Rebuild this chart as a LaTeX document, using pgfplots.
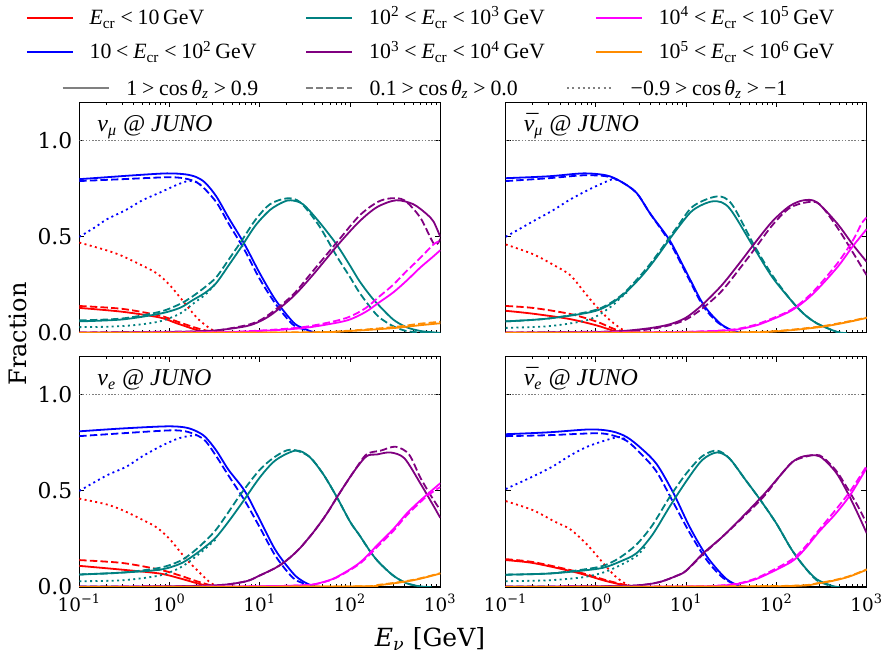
\documentclass[border=0pt]{standalone}
\usepackage{fontspec}
\usepackage{pgfplots}
\pgfplotsset{compat=1.18}
\newfontfamily\tms{Liberation Serif}
\newfontfamily\dvs{DejaVu Serif}
\definecolor{cteal}{RGB}{0,128,128}
\definecolor{cpurple}{RGB}{128,0,128}
\definecolor{corange}{RGB}{255,140,0}
\definecolor{cmag}{RGB}{255,0,255}
\newcommand{\rel}[1]{\hspace{0.22em}#1\hspace{0.22em}}
\newcommand{\Ecr}{\textit{E}\textsubscript{cr}}
\newcommand{\cz}{cos\hspace{0.15em}\textit{θ}\textsubscript{\textit{z}}}
\newcommand{\nubar}{\ooalign{ν\cr\hidewidth\kern0.12em¯\hidewidth\cr}}
\pgfplotsset{
 sol/.style={line width=0.9pt, solid, smooth, forget plot},
 das/.style={line width=0.9pt, dash pattern=on 3.7pt off 1.6pt, smooth, forget plot},
 dts/.style={line width=0.9pt, dash pattern=on 1pt off 1.7pt, smooth, forget plot},
 hl/.style={gray, line width=0.4pt, dash pattern=on 0.8pt off 0.8pt, forget plot},
 scale only axis, width=180.5pt, height=115.3pt,
 xmin=0.1, xmax=1000, ymin=0, ymax=1.2,
 ytick={0,0.5,1}, minor ytick={},
 tick align=inside, xtick pos=both, ytick pos=both,
 major tick length=2.6pt, minor tick length=1.5pt,
 tick style={black, line width=0.5pt},
 axis line style={line width=0.55pt},
 xticklabel style={font=\dvs\fontsize{9.2}{11}\selectfont},
 yticklabel style={font=\dvs\fontsize{10.9}{13}\selectfont},
 legend image code/.code={\draw[#1] (0pt,3.6pt) -- (23pt,3.6pt);},
}
\tikzset{plab/.style={anchor=base west, inner sep=0pt, font=\tms\itshape\fontsize{12}{14}\selectfont}}
\begin{document}
\begin{tikzpicture}
\useasboundingbox (0,0) rectangle (445.5pt,-331pt);

% ---------------- top left: nu_mu
\begin{axis}[xmode=log, xtick={0.1,1,10,100,1000},
 minor xtick={0.2,0.3,0.4,0.5,0.6,0.7,0.8,0.9,2,3,4,5,6,7,8,9,20,30,40,50,60,70,80,90,200,300,400,500,600,700,800,900},
 at={(39.65pt,-51.15pt)}, anchor=north west, xticklabels={}, yticklabels={0.0,0.5,1.0},
 legend columns=3,
 legend style={at={(axis description cs:-0.1475,1.4048)}, anchor=north west,
  draw=none, fill=none, inner sep=0pt, outer sep=0pt,
  font=\tms\fontsize{10.9}{13}\selectfont,
  nodes={inner sep=0pt, outer sep=0pt, text height=8pt, text depth=3pt},
  cells={anchor=base west},
  row sep=6pt,
  /tikz/every odd column/.append style={column sep=8pt}},
]
\addlegendimage{red, line width=0.8pt}
\addlegendentry{\makebox[108pt][l]{\Ecr\rel{<}10\,GeV}}
\addlegendimage{cteal, line width=0.8pt}
\addlegendentry{\makebox[113pt][l]{10\textsuperscript{2}\rel{<}\Ecr\rel{<}10\textsuperscript{3}\,GeV}}
\addlegendimage{cmag, line width=0.8pt}
\addlegendentry{10\textsuperscript{4}\rel{<}\Ecr\rel{<}10\textsuperscript{5}\,GeV}
\addlegendimage{blue, line width=0.8pt}
\addlegendentry{\makebox[108pt][l]{10\rel{<}\Ecr\rel{<}10\textsuperscript{2}\,GeV}}
\addlegendimage{cpurple, line width=0.8pt}
\addlegendentry{\makebox[113pt][l]{10\textsuperscript{3}\rel{<}\Ecr\rel{<}10\textsuperscript{4}\,GeV}}
\addlegendimage{corange, line width=0.8pt}
\addlegendentry{10\textsuperscript{5}\rel{<}\Ecr\rel{<}10\textsuperscript{6}\,GeV}
\addplot[hl] coordinates {(0.1,1) (1000,1)};
\addplot[red, sol] coordinates {(0.1,0.13) (0.3,0.11) (0.78,0.08) (1.2,0.05) (2,0.015) (2.5,0.005) (3,0) (5,0)};
\addplot[red, das] coordinates {(0.1,0.14) (0.3,0.125) (0.78,0.09) (1.2,0.06) (2,0.025) (3,0.005) (4,0)};
\addplot[red, dts] coordinates {(0.1,0.47) (0.2,0.43) (0.3,0.40) (0.5,0.35) (0.72,0.31) (1,0.25) (1.5,0.15) (2,0.08) (2.5,0.04) (3,0.015) (4,0)};
\addplot[blue, sol] coordinates {(0.1,0.80) (0.2,0.81) (0.4,0.82) (0.93,0.83) (1.5,0.825) (2,0.81) (2.5,0.78) (3.3,0.71) (4.5,0.60) (6.8,0.46) (10,0.31) (15,0.17) (23.5,0.055) (30,0.025) (39,0.005) (50,0)};
\addplot[blue, das] coordinates {(0.1,0.79) (0.3,0.80) (1,0.81) (1.6,0.80) (2.2,0.77) (3.3,0.68) (4.5,0.57) (6.8,0.43) (10,0.28) (15,0.15) (23,0.045) (30,0.02) (40,0)};
\addplot[blue, dts] coordinates {(0.1,0.50) (0.15,0.55) (0.2,0.59) (0.33,0.64) (0.5,0.69) (0.78,0.73) (1.2,0.77) (1.6,0.79) (2,0.785) (2.2,0.77)};
\addplot[cteal, sol] coordinates {(0.1,0.06) (0.3,0.07) (0.78,0.10) (1.3,0.13) (1.8,0.17) (2.5,0.21) (3.3,0.26) (4.5,0.35) (6.3,0.45) (9,0.56) (13,0.64) (18,0.68) (22,0.69) (30,0.67) (45,0.58) (71,0.46) (100,0.35) (127,0.27) (170,0.19) (212,0.14) (300,0.07) (420,0.03) (600,0.01) (840,0.003) (1000,0)};
\addplot[cteal, das] coordinates {(0.1,0.065) (0.3,0.075) (0.78,0.11) (1.3,0.15) (1.8,0.19) (2.5,0.24) (3.3,0.29) (4.5,0.38) (6.3,0.48) (9,0.59) (13,0.67) (20,0.70) (28,0.68) (45,0.56) (71,0.40) (100,0.29) (127,0.21) (170,0.13) (212,0.08) (300,0.035) (420,0.01) (600,0.002) (800,0)};
\addplot[cteal, dts] coordinates {(0.1,0.03) (0.2,0.032) (0.4,0.04) (0.78,0.06) (1.3,0.10) (1.8,0.15) (2.5,0.20) (3.3,0.26)};
\addplot[cpurple, sol] coordinates {(0.1,0.002) (1,0.004) (2,0.008) (3.6,0.015) (7.1,0.035) (10,0.06) (13.9,0.10) (23.5,0.19) (38.5,0.30) (74,0.46) (127,0.58) (200,0.655) (324,0.69) (500,0.67) (700,0.62) (840,0.58) (1000,0.50)};
\addplot[cpurple, das] coordinates {(0.1,0.002) (2,0.008) (3.6,0.015) (7.1,0.04) (10,0.065) (13.9,0.11) (23.5,0.20) (38.5,0.32) (74,0.48) (127,0.61) (200,0.68) (280,0.70) (400,0.69) (600,0.60) (860,0.46) (1000,0.49)};
\addplot[cmag, sol] coordinates {(0.1,0) (3,0.003) (10,0.01) (30,0.025) (66,0.05) (100,0.07) (150,0.11) (212,0.16) (300,0.21) (420,0.27) (600,0.34) (800,0.39) (1000,0.43)};
\addplot[cmag, das] coordinates {(0.1,0) (3,0.004) (10,0.012) (30,0.03) (66,0.06) (100,0.085) (150,0.13) (212,0.19) (300,0.25) (420,0.32) (600,0.39) (840,0.46) (1000,0.48)};
\addplot[corange, sol] coordinates {(0.1,0) (30,0.002) (100,0.01) (300,0.025) (600,0.04) (1000,0.05)};
\addplot[corange, das] coordinates {(0.1,0) (30,0.003) (100,0.012) (300,0.03) (600,0.048) (1000,0.058)};
\node[plab] at (axis description cs:0.049,0.873) {ν\textsubscript{μ} @ JUNO};
\end{axis}

% ---------------- top right: anti nu_mu
\begin{axis}[xmode=log, xtick={0.1,1,10,100,1000},
 minor xtick={0.2,0.3,0.4,0.5,0.6,0.7,0.8,0.9,2,3,4,5,6,7,8,9,20,30,40,50,60,70,80,90,200,300,400,500,600,700,800,900},
 at={(252.85pt,-51.15pt)}, anchor=north west, xticklabels={}, yticklabels={},
 legend columns=3,
 legend style={at={(axis description cs:-1.2287,1.1004)}, anchor=north west,
  draw=none, fill=none, inner sep=0pt, outer sep=0pt,
  font=\tms\fontsize{10.9}{13}\selectfont,
  nodes={inner sep=0pt, outer sep=0pt, text height=8pt, text depth=3pt},
  cells={anchor=base west},
  /tikz/every odd column/.append style={column sep=8.5pt}},
]
\addlegendimage{gray, line width=0.6pt, solid}
\addlegendentry{\makebox[89.5pt][l]{1\rel{>}\cz\rel{>}0.9}}
\addlegendimage{gray, line width=0.6pt, dash pattern=on 3.5pt off 1.6pt}
\addlegendentry{\makebox[98.5pt][l]{0.1\rel{>}\cz\rel{>}0.0}}
\addlegendimage{gray, line width=0.6pt, dash pattern=on 1pt off 1.6pt}
\addlegendentry{−0.9\rel{>}\cz\rel{>}−1}
\addplot[hl] coordinates {(0.1,1) (1000,1)};
\addplot[red, sol] coordinates {(0.1,0.115) (0.2,0.10) (0.5,0.073) (1,0.04) (1.6,0.01) (2.2,0.002) (3,0)};
\addplot[red, das] coordinates {(0.1,0.14) (0.2,0.13) (0.5,0.10) (1,0.06) (1.6,0.02) (2.2,0.005) (3,0)};
\addplot[red, dts] coordinates {(0.1,0.46) (0.2,0.41) (0.35,0.35) (0.52,0.30) (0.75,0.21) (1.0,0.14) (1.4,0.07) (2.0,0.015) (2.5,0.003) (3,0)};
\addplot[blue, sol] coordinates {(0.1,0.805) (0.3,0.815) (0.72,0.83) (1.3,0.82) (1.85,0.79) (2.8,0.73) (4,0.62) (6.6,0.48) (10.2,0.31) (15.4,0.15) (23,0.055) (30,0.02) (36,0.005) (45,0)};
\addplot[blue, das] coordinates {(0.1,0.79) (0.3,0.805) (0.72,0.82) (1.3,0.815) (1.85,0.79) (2.8,0.73) (4,0.62) (6.6,0.47) (10.2,0.30) (15.4,0.14) (23,0.05) (36,0.003) (45,0)};
\addplot[blue, dts] coordinates {(0.1,0.50) (0.2,0.58) (0.34,0.64) (0.5,0.69) (0.79,0.74) (1.2,0.78) (1.55,0.80) (1.85,0.79)};
\addplot[cteal, sol] coordinates {(0.1,0.06) (0.3,0.075) (1.0,0.115) (1.85,0.185) (3,0.28) (4.4,0.375) (7.9,0.54) (12,0.64) (20,0.685) (30,0.65) (56,0.445) (90,0.29) (145,0.17) (200,0.10) (280,0.05) (470,0.005) (600,0)};
\addplot[cteal, das] coordinates {(0.1,0.06) (0.3,0.075) (1.0,0.12) (1.85,0.19) (3,0.29) (4.4,0.385) (7.9,0.55) (12,0.66) (22,0.71) (32,0.67) (56,0.46) (90,0.30) (145,0.17) (200,0.10) (280,0.05) (470,0.005) (600,0)};
\addplot[cteal, dts] coordinates {(0.1,0.026) (0.3,0.035) (0.7,0.06) (1.0,0.085) (1.5,0.14) (1.85,0.18) (2.2,0.21)};
\addplot[cpurple, sol] coordinates {(0.1,0.002) (1,0.004) (2,0.01) (4,0.025) (6.6,0.045) (10,0.08) (15.4,0.15) (25,0.25) (40,0.37) (56,0.46) (90,0.58) (140,0.66) (200,0.69) (280,0.68) (470,0.57) (700,0.46) (1000,0.37)};
\addplot[cpurple, das] coordinates {(0.1,0.002) (2,0.008) (4,0.02) (6.6,0.04) (10,0.07) (15.4,0.13) (25,0.22) (40,0.34) (56,0.43) (90,0.56) (140,0.65) (220,0.68) (300,0.67) (470,0.55) (700,0.42) (1000,0.30)};
\addplot[cmag, sol] coordinates {(0.1,0) (5,0.003) (15,0.007) (25,0.011) (36,0.017) (50,0.03) (70,0.05) (145,0.115) (250,0.20) (470,0.34) (700,0.45) (1000,0.54)};
\addplot[cmag, das] coordinates {(0.1,0) (5,0.004) (15,0.008) (25,0.013) (36,0.02) (50,0.034) (70,0.055) (145,0.12) (250,0.21) (470,0.36) (700,0.48) (880,0.57) (1000,0.60)};
\addplot[corange, sol] coordinates {(0.1,0) (30,0.002) (100,0.008) (300,0.03) (600,0.055) (1000,0.078)};
\addplot[corange, das] coordinates {(0.1,0) (30,0.003) (100,0.01) (300,0.033) (600,0.058) (1000,0.08)};
\node[plab] at (axis description cs:0.049,0.873) {\nubar\textsubscript{μ} @ JUNO};
\end{axis}

% ---------------- bottom left: nu_e
\begin{axis}[xmode=log, xtick={0.1,1,10,100,1000},
 minor xtick={0.2,0.3,0.4,0.5,0.6,0.7,0.8,0.9,2,3,4,5,6,7,8,9,20,30,40,50,60,70,80,90,200,300,400,500,600,700,800,900},
 at={(39.65pt,-178.2pt)}, anchor=north west,
 xticklabels={10\textsuperscript{−1},10\textsuperscript{0},10\textsuperscript{1},10\textsuperscript{2},10\textsuperscript{3}},
 yticklabels={0.0,0.5,1.0}]
\addplot[hl] coordinates {(0.1,1) (1000,1)};
\addplot[red, sol] coordinates {(0.1,0.11) (0.3,0.09) (0.78,0.07) (1.3,0.045) (2,0.02) (2.8,0.003) (3.5,0)};
\addplot[red, das] coordinates {(0.1,0.14) (0.3,0.125) (0.78,0.09) (1.3,0.06) (2,0.03) (2.8,0.01) (3.5,0)};
\addplot[red, dts] coordinates {(0.1,0.46) (0.2,0.43) (0.3,0.40) (0.5,0.35) (0.72,0.31) (1,0.25) (1.5,0.15) (2,0.09) (2.5,0.045) (3,0.015) (4,0)};
\addplot[blue, sol] coordinates {(0.1,0.81) (0.3,0.825) (0.93,0.836) (1.5,0.83) (2,0.81) (2.5,0.78) (3.3,0.71) (4.5,0.61) (6.8,0.50) (10,0.35) (15,0.19) (23.5,0.07) (30,0.03) (39,0.005) (50,0)};
\addplot[blue, das] coordinates {(0.1,0.785) (0.3,0.80) (1,0.815) (1.5,0.81) (2,0.79) (2.5,0.76) (3.3,0.68) (4.5,0.58) (6.8,0.45) (10,0.31) (15,0.16) (23,0.05) (30,0.02) (40,0)};
\addplot[blue, dts] coordinates {(0.1,0.50) (0.2,0.58) (0.33,0.625) (0.5,0.68) (0.78,0.73) (1.2,0.77) (1.6,0.785) (2,0.79)};
\addplot[cteal, sol] coordinates {(0.1,0.065) (0.3,0.075) (0.78,0.09) (1.3,0.12) (1.8,0.16) (2.5,0.21) (3.3,0.26) (4.5,0.34) (6.3,0.435) (10,0.57) (15,0.66) (25,0.71) (35,0.68) (50,0.59) (71,0.47) (100,0.34) (127,0.27) (170,0.18) (212,0.125) (300,0.06) (420,0.02) (600,0.003) (800,0)};
\addplot[cteal, das] coordinates {(0.1,0.065) (0.3,0.075) (0.78,0.10) (1.3,0.135) (1.8,0.18) (2.5,0.24) (3.3,0.30) (4.5,0.39) (6.3,0.49) (10,0.61) (15,0.68) (22,0.715) (35,0.68) (50,0.59) (71,0.47) (100,0.34) (127,0.27) (170,0.18) (212,0.125) (300,0.06) (420,0.02) (600,0.003)};
\addplot[cteal, dts] coordinates {(0.1,0.03) (0.3,0.035) (0.78,0.06) (1.3,0.10) (1.8,0.145) (2.5,0.20) (3.3,0.25)};
\addplot[cpurple, sol] coordinates {(0.1,0.002) (1,0.004) (3.6,0.01) (7.1,0.03) (10,0.06) (15,0.10) (20,0.14) (27.6,0.20) (40,0.29) (55,0.38) (77,0.49) (110,0.60) (152,0.68) (200,0.69) (280,0.70) (400,0.67) (600,0.54) (800,0.44) (1000,0.36)};
\addplot[cpurple, das] coordinates {(0.1,0.002) (1,0.004) (3.6,0.01) (7.1,0.03) (10,0.06) (15,0.10) (20,0.14) (27.6,0.20) (40,0.29) (55,0.38) (77,0.49) (110,0.60) (152,0.69) (220,0.71) (320,0.73) (450,0.69) (600,0.57) (800,0.47) (1000,0.40)};
\addplot[cmag, sol] coordinates {(0.1,0) (3,0.002) (10,0.004) (20,0.006) (30,0.009) (39,0.013) (50,0.025) (70,0.05) (127,0.125) (212,0.23) (300,0.30) (420,0.38) (600,0.45) (1000,0.54)};
\addplot[cmag, das] coordinates {(0.1,0) (3,0.002) (10,0.004) (20,0.006) (30,0.009) (39,0.013) (50,0.024) (70,0.048) (127,0.12) (212,0.22) (300,0.29) (420,0.37) (700,0.47) (1000,0.52)};
\addplot[corange, sol] coordinates {(0.1,0) (100,0.003) (212,0.01) (500,0.035) (1000,0.07)};
\addplot[corange, das] coordinates {(0.1,0) (100,0.003) (212,0.012) (500,0.037) (1000,0.072)};
\node[plab] at (axis description cs:0.049,0.873) {ν\textsubscript{e} @ JUNO};
\end{axis}

% ---------------- bottom right: anti nu_e
\begin{axis}[xmode=log, xtick={0.1,1,10,100,1000},
 minor xtick={0.2,0.3,0.4,0.5,0.6,0.7,0.8,0.9,2,3,4,5,6,7,8,9,20,30,40,50,60,70,80,90,200,300,400,500,600,700,800,900},
 at={(252.85pt,-178.2pt)}, anchor=north west, yticklabels={},
 xticklabels={10\textsuperscript{−1},10\textsuperscript{0},10\textsuperscript{1},10\textsuperscript{2},10\textsuperscript{3}}]
\addplot[hl] coordinates {(0.1,1) (1000,1)};
\addplot[red, sol] coordinates {(0.1,0.14) (0.2,0.125) (0.5,0.085) (0.8,0.06) (1.2,0.035) (1.8,0.015) (2.5,0.003) (3,0)};
\addplot[red, das] coordinates {(0.1,0.145) (0.2,0.13) (0.5,0.09) (0.8,0.065) (1.2,0.04) (1.8,0.018) (2.5,0.005) (3,0)};
\addplot[red, dts] coordinates {(0.1,0.447) (0.2,0.40) (0.35,0.34) (0.52,0.30) (0.8,0.22) (1.2,0.125) (1.6,0.06) (2.0,0.025) (2.4,0.005) (3,0)};
\addplot[blue, sol] coordinates {(0.1,0.795) (0.3,0.805) (0.86,0.82) (1.5,0.81) (2.2,0.78) (3.2,0.72) (4.7,0.64) (7.2,0.49) (11,0.31) (16.9,0.16) (26,0.055) (33,0.02) (40,0.005) (50,0)};
\addplot[blue, das] coordinates {(0.1,0.785) (0.3,0.79) (1,0.80) (1.5,0.79) (2.2,0.76) (3.2,0.69) (4.7,0.60) (7.2,0.44) (11,0.28) (16.9,0.14) (26,0.045) (40,0.003) (50,0)};
\addplot[blue, dts] coordinates {(0.1,0.51) (0.2,0.575) (0.34,0.63) (0.5,0.68) (0.8,0.73) (1.43,0.77) (1.9,0.78) (2.2,0.76)};
\addplot[cteal, sol] coordinates {(0.1,0.064) (0.3,0.07) (0.7,0.085) (1.2,0.10) (1.8,0.13) (2.8,0.175) (4.2,0.27) (6.6,0.42) (10,0.55) (15,0.66) (21.8,0.70) (30,0.67) (45,0.56) (67,0.45) (100,0.33) (145,0.20) (200,0.11) (280,0.04) (420,0.005) (500,0)};
\addplot[cteal, das] coordinates {(0.1,0.064) (0.3,0.07) (0.7,0.09) (1.2,0.11) (1.8,0.15) (2.8,0.22) (4.2,0.32) (6.6,0.47) (10,0.59) (15,0.68) (21.8,0.71) (30,0.67) (45,0.56) (67,0.45) (100,0.33) (145,0.20) (200,0.11) (280,0.035) (420,0.003)};
\addplot[cteal, dts] coordinates {(0.1,0.03) (0.3,0.035) (0.7,0.05) (1.2,0.075) (1.8,0.11) (2.8,0.16) (3.5,0.21)};
\addplot[cpurple, sol] coordinates {(0.1,0.002) (1,0.004) (2.8,0.008) (5,0.025) (8,0.06) (10,0.085) (15.4,0.175) (25,0.26) (40,0.355) (72,0.48) (110,0.58) (150,0.65) (200,0.68) (300,0.68) (450,0.60) (600,0.50) (800,0.38) (1000,0.28)};
\addplot[cpurple, das] coordinates {(0.1,0.002) (1,0.004) (2.8,0.008) (5,0.025) (8,0.06) (10,0.085) (15.4,0.17) (25,0.26) (40,0.35) (72,0.47) (110,0.58) (150,0.65) (200,0.675) (300,0.685) (450,0.61) (600,0.52) (800,0.42) (1000,0.33)};
\addplot[cmag, sol] coordinates {(0.1,0) (5,0.002) (20,0.005) (36,0.015) (50,0.03) (70,0.055) (145,0.13) (200,0.19) (300,0.29) (450,0.38) (660,0.48) (1000,0.62)};
\addplot[cmag, das] coordinates {(0.1,0) (5,0.002) (20,0.006) (36,0.017) (50,0.033) (70,0.06) (145,0.14) (200,0.20) (300,0.30) (450,0.40) (660,0.50) (1000,0.63)};
\addplot[corange, sol] coordinates {(0.1,0) (100,0.004) (300,0.02) (600,0.05) (1000,0.09)};
\addplot[corange, das] coordinates {(0.1,0) (100,0.005) (300,0.022) (600,0.052) (1000,0.092)};
\node[plab] at (axis description cs:0.049,0.873) {\nubar\textsubscript{e} @ JUNO};
\end{axis}

\node[rotate=90, font=\dvs\fontsize{12}{14}\selectfont, inner sep=0pt] at (9pt,-167pt) {Fraction};
\node[font=\dvs\fontsize{12.5}{14}\selectfont, inner sep=0pt] at (215pt,-319.5pt) {\textit{E}\textsubscript{\textit{ν}} [GeV]};
\end{tikzpicture}
\end{document}
